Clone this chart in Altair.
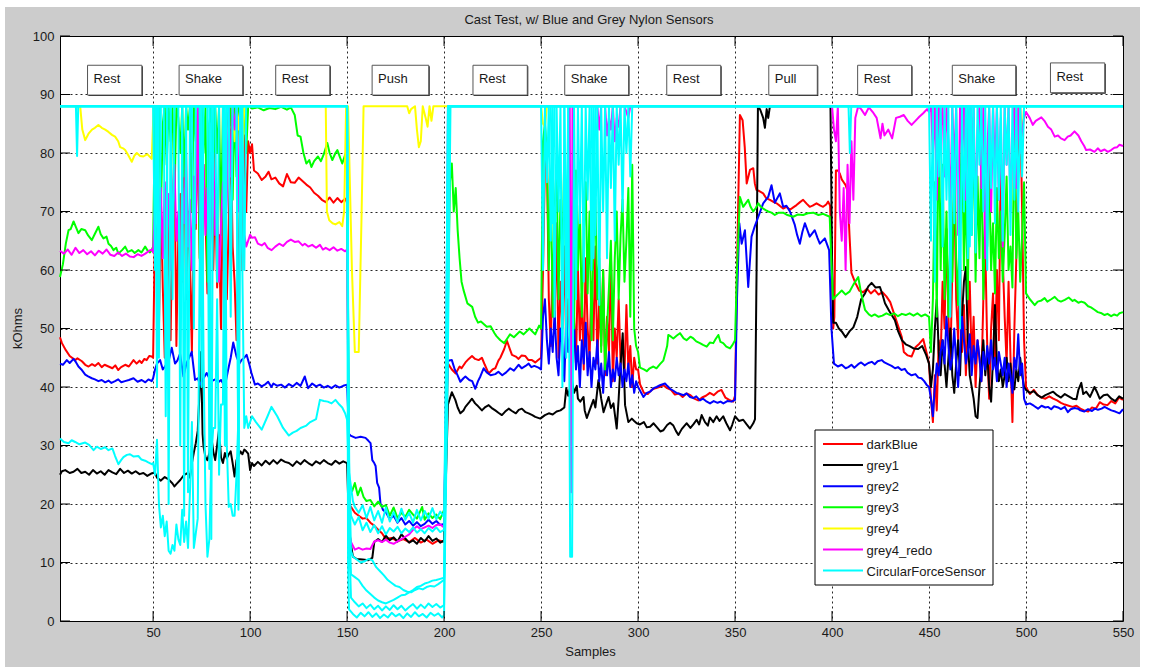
import altair as alt
import pandas as pd

FONT = "Liberation Sans"


def run(start, values):
    """Readings taken at consecutive samples beginning at `start`."""
    return [(start + i, v) for i, v in enumerate(values)]


# ---------------- sensor readings (sample, kOhms) ----------------
dark_blue = (
    [(2, 48.5), (3, 47.5), (5, 46.3), (7, 45.3), (9.8, 44.6), (11, 44.9), (13.3, 44.4), (15, 43.8),
     (16.7, 43.5), (18.5, 43.9), (20, 43.6), (21.8, 44.1), (23.5, 43.4), (25, 43.8), (27, 43.5),
     (29, 43.2), (30.5, 43.7), (32, 42.9), (33.5, 43.4), (35.6, 43.8), (37.5, 43.5), (39.9, 44.6),
     (41.5, 44), (43, 44.5), (44.1, 44.1), (45.5, 44.8), (46.7, 44.6), (48, 45.3), (49.3, 45.2)]
    + run(50, [45, 68, 66, 50, 72, 57, 45, 75, 62, 48, 70, 80, 47, 66, 73, 58, 82, 55, 70, 60,
               46, 74, 67, 85, 63, 52, 78, 69, 56, 72, 80, 60, 75, 57, 66, 50, 73, 62, 55, 68,
               84, 64, 58, 48, 62, 75, 60, 83, 70, 82])
    + [(100, 80), (101, 81.5), (102, 77), (104, 76.5), (106, 75.4), (108, 76), (109.5, 76.8),
       (111, 75.5), (113, 75.8), (115, 74.8), (117, 74.3), (119, 76.4), (121, 75), (123, 74.9),
       (125, 75.8), (127, 75.2), (129, 74.6), (131, 74.1), (133, 73.2), (135, 72.7), (137, 72),
       (139, 71.6), (141, 72.4), (143, 71.5), (145, 72.3), (147, 71.6), (149, 72.2), (150, 71.5)]
    + [(151, 20), (152, 19.5), (154, 18.5), (156, 18), (158, 17.5), (160, 17.6), (162, 16.8),
       (164, 16.3), (166, 15.6), (168, 15), (170, 14), (173, 14.2), (176, 13.6), (179, 14),
       (182, 13.5), (185, 14.2), (188, 13.4), (191, 13.9), (194, 13.2), (197, 13.8), (200, 13.5)]
    + [(201, 30), (202, 44), (204, 43), (206, 42.3), (208, 43.5), (209, 43.2), (211, 44.2),
       (212.7, 44.8), (214.4, 45.3), (216, 44.8), (217.8, 44.6), (219.5, 45), (221, 43.8),
       (223, 42.3), (225, 43), (226.4, 43.2), (228, 44.5), (229, 45), (231, 46.5), (232.4, 47.9),
       (234, 46.4), (235, 45.5), (237, 45.2), (238.4, 44.8), (240, 45.4), (241.8, 45.3),
       (243.5, 44.6), (245.3, 44.6), (247, 44.2), (248.5, 44.6)]
    + run(250, [45, 60, 78, 80, 55, 47, 62, 52, 68, 45, 58, 50, 64, 46, 55, 49, 70, 52, 44, 60,
                48, 56, 43, 62, 50, 45, 58, 48, 64, 44, 55, 47, 60, 42, 52, 46, 63, 41, 50, 45,
                55, 44, 48, 42, 54, 43, 47, 40, 45, 43])
    + [(300, 43), (301, 40.5), (303, 39), (305, 38.8), (307, 39.5), (309, 39.8), (311, 40),
       (313, 40.3), (315, 39.8), (317, 39.5), (319, 38.7), (321, 38.9), (323, 38.3), (325, 38.9),
       (327, 38.6), (329, 38), (331, 37.7), (333, 38.2), (335, 38.5), (337, 39), (339, 38.6),
       (341, 39.2), (343, 39.5), (345, 38.2), (347, 37.8), (349, 37.5), (350, 38.5), (351, 60),
       (352.5, 86.5), (353.9, 85.6), (355, 81), (356, 74.8), (357.7, 77.1), (359.4, 77.4),
       (360.2, 74.8), (361, 73.7), (362.5, 73.5), (364.5, 73.1), (366, 72.3), (368, 72),
       (370, 71.6), (371.4, 71.4), (373, 71), (374.8, 70.5), (376.5, 70.8), (378.3, 70.3),
       (380, 70.7), (381.7, 71.1), (383.5, 71.6), (385.1, 72), (387, 71.3), (388.5, 70.8),
       (390, 71), (392, 71.4), (394, 71), (395.4, 70.8), (397, 71.2), (398, 71.7), (399, 71)]
    + [(400, 60), (400.6, 50), (401.2, 52), (402, 77), (403, 77), (404, 76.5), (405, 75.5),
       (406, 75), (407, 74.5), (408, 73.5), (409, 66), (410, 59.5), (412, 57.8), (414, 56.5),
       (416, 56.2), (418, 56.8), (420, 56), (422, 56.6), (424, 55.8), (426, 56.2), (428, 55.5),
       (430, 54.5), (432, 52.5), (434, 50.5), (436, 48.5), (437, 46), (439, 45.4), (441, 45.2),
       (443, 46.8), (445, 47.4), (447, 48.2), (449, 45.5)]
    + run(450, [44, 38, 34, 42, 36, 48, 45, 58, 50, 67, 52, 44, 60, 75, 55, 48, 62, 46, 54, 42,
                50, 58, 44, 52, 40, 48, 45, 41, 55, 64, 47, 38, 50, 56, 44, 60, 48, 80, 62, 52,
                44, 58, 45, 34, 50, 62, 80, 88, 70, 48, 40])
    + [(502, 38.8), (504, 39.5), (506, 38.6), (508, 38.2), (510, 38), (512, 38.4), (514, 38),
       (516, 37.7), (518, 37.3), (520, 37), (522, 36.8), (524, 36.6), (526, 36.8), (528, 36.3),
       (530, 36), (532, 35.8), (534, 36.5), (536, 36.3), (538, 37.4), (540, 37), (542, 36.9),
       (544, 37.6), (546, 37.2), (548, 38.2), (550, 37.8)]
)

grey1 = (
    [(2, 25), (3, 25.6), (4.7, 25.8), (7, 25.3), (9, 25.5), (11, 26), (13, 25.3), (15, 25.5),
     (17, 25), (19, 25.8), (21, 25.2), (23, 25.6), (25, 25), (27, 25.8), (29, 25.4), (31, 25.1),
     (33, 26), (35, 25.3), (37, 25.7), (39, 25.2), (41, 25.6), (43, 25.1), (45, 25.3), (47, 24.8),
     (49, 25.2), (50, 25.3)]
    + [(51, 25.3), (52, 24.5), (54, 24), (56, 24.6), (58, 24.2), (60, 23.5), (61, 23), (62, 23.4),
       (64, 24.1), (66, 25), (68, 25.3), (69, 24.5), (70, 27), (71, 28.8), (72, 30.4), (73, 32.5),
       (74, 39.5), (74.7, 46), (75.5, 32), (76, 29.8), (77, 28), (78, 27.5), (79, 28.7),
       (80, 31.5), (81, 29), (82, 27.5), (83, 30), (84, 32.7), (85, 28), (86, 27), (87, 28.7),
       (88, 27.8), (89, 28.5), (90, 29), (91, 27), (92, 24.7), (93, 27.5), (94, 28.2), (95, 29),
       (96, 28.5), (97, 29.3), (98, 29), (99, 28.6), (100, 25.8), (101, 27), (102, 26.5)]
    + [(104, 27.2), (106, 26.6), (108, 27.4), (110, 26.8), (112, 27.5), (114, 26.9), (116, 27.6),
       (118, 27.2), (120, 27), (122, 26.5), (124, 27.3), (126, 26.8), (128, 27.5), (130, 27),
       (132, 26.6), (134, 27.3), (136, 26.9), (138, 27.5), (140, 27), (142, 26.7), (144, 27.4),
       (146, 26.9), (148, 27.3), (150, 27)]
    + [(151, 16), (152, 13), (153, 11), (155, 10.6), (158, 10.5), (161, 10.4), (163, 10.8),
       (164, 13.5), (166, 14), (168, 13.5), (170, 14.6), (172, 13.8), (174, 14.3), (176, 13.6),
       (178, 14.8), (180, 14.1), (182, 13.4), (184, 13.8), (186, 13.2), (188, 14.2), (190, 13.6),
       (192, 14.5), (194, 13.7), (196, 14.1), (198, 13.4), (200, 13.8)]
    + [(201, 25), (202, 37), (204, 39.1), (205.8, 37.8), (207, 36.5), (208.4, 35.5), (210, 36),
       (211, 36.6), (213, 37.4), (214.4, 38), (216, 37.2), (217, 36.9), (219.5, 36), (221, 36.5),
       (223, 36.9), (225, 36.3), (226.4, 36), (228, 35.6), (229.8, 35.2), (231.5, 35.8),
       (233.3, 36.3), (235, 35.9), (237, 35.5), (238.5, 36.1), (240.1, 36.3), (242, 35.7),
       (243.6, 35.5), (245.5, 35.2), (247, 34.9), (249.6, 34.6)]
    + [(252, 35.2), (254, 35.5), (256, 35.3), (258, 35.8), (260, 36), (262, 36.5), (263, 39.8),
       (264, 38.5), (265.9, 41.2), (267, 39), (268.4, 40.2), (269, 38), (270.2, 37.5),
       (271.9, 38.3), (272.5, 36), (273.6, 34.7), (275, 36), (277, 37.8), (278, 36.5),
       (279.6, 41.2), (281, 38), (282.2, 35.7), (283.5, 37), (284.8, 38.3), (286, 36.4),
       (287.3, 37.2), (289, 32.9), (290, 38), (290.8, 42.9), (292.1, 49.2), (293.3, 36.9),
       (295, 34), (296.8, 34.6), (298, 34.2), (299.3, 33.8)]
    + [(301, 33.6), (303, 34), (304.5, 33.1), (306.2, 33.2), (308, 33.8), (310, 33), (311.5, 32.4),
       (313, 32.6), (315, 33.5), (316.5, 33.9), (318.2, 33.4), (319.5, 32.5), (320.8, 31.8),
       (322.5, 32.8), (324, 33.4), (325.1, 33.8), (327, 33), (328.5, 33.6), (330.2, 34.4),
       (331.5, 33.6), (332.8, 35.2), (334.5, 34), (336, 33.4), (337, 34.8), (338.8, 34),
       (340.5, 35), (342, 34.2), (343.9, 35), (345.5, 33.8), (347.4, 32.6), (348.5, 33.5),
       (350, 35), (352, 34.2), (354.2, 34.4), (356, 33.6), (357.7, 32.9), (359.4, 33.8),
       (360.3, 34.5), (361.1, 60), (361.8, 88), (363, 87.4), (364.5, 86), (365.4, 84.3),
       (366.3, 87.5), (367.1, 86), (368, 88), (399.2, 88), (400, 62), (400.6, 51), (402, 51),
       (403.5, 50), (405, 49.5), (407, 48.5), (409, 49.5), (411, 50.2), (413, 52), (415, 55),
       (417, 56), (418.7, 57.2), (420.4, 57.8), (422.5, 57), (424.7, 57.1), (426, 55.8),
       (427.3, 54.3), (429.5, 53), (432.4, 51.4), (434.1, 49.5), (436, 48), (438, 47.3),
       (440, 47), (442, 46.6), (444.4, 46.5), (446.5, 47), (448.5, 45.5)]
    + run(450, [44, 40, 43, 50, 55, 46, 42, 48, 44, 40, 45, 50, 42, 39, 44, 48, 42, 52, 58, 60.5,
                48, 42, 40, 38, 35, 34.7, 40, 44, 48, 42, 46, 40, 37.5, 45, 54, 44, 41, 43, 40, 42,
                45, 41, 44, 40, 39.6, 43, 41, 45, 42, 40, 39.5])
    + [(502, 39), (504, 39.3), (506, 38.6), (508, 38.2), (510, 38.6), (512, 38.9), (514, 39.2),
       (516, 38.6), (518, 38.2), (520, 38.8), (522, 38.4), (524, 38), (526, 37.9), (527, 39.5),
       (528.5, 40.7), (529.5, 38.8), (531, 39.2), (533, 38.3), (535.3, 40), (536.5, 39.2),
       (538, 38), (540, 38.6), (542, 38.7), (544, 38), (546, 37.6), (548, 38.4), (550, 38)]
)

grey2 = (
    [(2, 44), (3.5, 43.8), (5.5, 44.6), (7, 44.1), (9, 44.8), (10.3, 44.2), (11.5, 43.5), (13, 43),
     (15, 42.1), (16.5, 41.8), (18.4, 41.5), (20, 41.3), (21.8, 41), (23.5, 41.2), (25.3, 40.8),
     (27, 41.1), (28.5, 40.7), (30.4, 41), (32, 41.3), (33.6, 40.8), (35.5, 41), (37.5, 41.2),
     (39.9, 41.5), (42, 40.9), (44.1, 41.2), (46, 40.8), (47.6, 41.3), (49.3, 41), (50, 41.5)]
    + [(51, 43), (52, 44), (53.6, 44.6), (55, 43), (56.1, 43.5), (58, 44.5), (59.6, 46.7),
       (61.3, 44), (62.5, 44.5), (63.9, 45.7), (65.6, 41.8), (67.3, 44.1), (69.9, 46),
       (71.6, 41.2), (73, 41.5), (74.2, 40.4), (76, 41.5), (77.6, 42.4), (79, 41.5), (80.2, 41),
       (82, 41.3), (83.6, 40.8), (85, 41.2), (87, 40.1), (88.7, 43), (90, 45), (91.3, 47.6),
       (93, 45.2), (94.5, 44), (95.6, 44.6), (97, 45), (98.2, 45.5), (99.5, 44), (100.7, 42.4),
       (102.5, 40.4)]
    + [(104, 40.6), (106, 40.1), (108, 40.5), (109.3, 40.9), (111, 40), (112, 40.6), (114, 40.2),
       (116, 40.4), (118, 39.9), (120, 40.5), (122, 40.1), (124, 40.7), (126, 40.2), (128.2, 41.8),
       (129.9, 39.8), (132, 40.6), (134, 40.1), (136, 40.4), (138, 39.9), (140, 40.2), (142, 39.8),
       (144, 40.3), (146, 39.9), (148, 40.2), (150, 40.4)]
    + [(151, 32), (151.8, 31.7), (154.4, 31.3), (157, 31.5), (159.5, 31.3), (161, 30.8),
       (162.1, 30.4), (163, 27.5), (164, 27), (164.7, 26.5), (165.5, 23.6), (166.5, 22.8),
       (167.2, 20.1), (168.5, 19), (170, 18.6), (172, 17.4), (174, 18), (176, 16.8), (178, 17.6),
       (180, 16.5), (182, 17.1), (184, 16.3), (186, 16.9), (188, 16.2), (190, 16.6), (192, 17.3),
       (194, 16.6), (196, 17.1), (198, 16.4), (200, 16.6)]
    + [(201, 35), (202, 44.5), (204, 44.6), (205.5, 43), (206.7, 42.2), (208.4, 40.9), (210, 41.5),
       (211, 41.8), (213, 41.2), (214.5, 41), (216.1, 39.7), (217.5, 41), (218.7, 41.8),
       (220.4, 43.2), (222, 42.5), (224, 42), (226.4, 42.2), (228, 42.6), (230, 42), (232, 42.5),
       (234.1, 43.2), (236, 42.8), (238.4, 43.8), (240, 43.2), (242, 43.6), (243.6, 44),
       (245, 43.4), (246.5, 43.6), (248.7, 43.3)]
    + run(250, [43, 52, 55, 48, 44, 50, 46, 53, 45, 42, 50, 47, 41, 52, 46, 49, 44, 51, 43, 47,
                40, 48, 44, 51, 42, 46, 40, 45, 43, 48, 41, 44, 39, 45, 42, 46, 40, 43, 41, 45,
                42, 44, 40, 43, 41, 44, 40, 42, 39, 41])
    + [(300, 40), (302.8, 38.3), (304.5, 39), (306.2, 39.2), (308, 39.8), (309.6, 40),
       (311.3, 40.3), (313.9, 40.6), (315, 40.2), (316.5, 39.7), (318, 39.4), (319.8, 39),
       (321.6, 38.8), (323.5, 38.6), (325, 38.9), (326.8, 38.3), (328.5, 38.1), (330, 38.4),
       (331.9, 37.7), (333.5, 38), (335, 37.6), (337.1, 37.2), (339, 37.6), (341, 37.3),
       (342.5, 37.5), (344, 37.2), (346, 37.6), (348.2, 37.5), (350, 37.8), (351, 55),
       (352.2, 68), (353.4, 64.5), (355.1, 66.8), (356.8, 57.1), (358.5, 65.7), (360.2, 67.5),
       (362, 69.1), (364.5, 71.4), (367.1, 72.5), (368.8, 74.5), (370.5, 71.5), (373.1, 73.1),
       (374.8, 70.8), (376.5, 71), (378.3, 70), (380.8, 67.7), (382, 66), (383.4, 64.5),
       (384.7, 66.5), (386, 68), (388.5, 65.7), (391.1, 66.8), (392.5, 65.5), (393.7, 64.5),
       (396.3, 65.4), (398.5, 63.4), (399.7, 50), (401, 44), (403, 43.5), (405, 43.8),
       (407, 43.2), (408.4, 43.4), (410, 43.8), (411.5, 43.3), (413.5, 43.9), (415, 44.2),
       (416.8, 43.7), (418.7, 44.1), (420.5, 44.3), (422, 43.9), (423.5, 44.4), (425.6, 44.6),
       (427, 44.2), (428.8, 43.9), (430.7, 43.6), (432.5, 43.2), (434, 43.4), (435.8, 42.9),
       (437.5, 43.1), (439, 42.4), (441, 42), (443, 42.2), (444.5, 41.6), (446.1, 41.5),
       (447.5, 41), (448.7, 40.4)]
    + run(450, [40, 38, 35, 40, 44, 42, 46, 48, 44, 52, 47, 43, 45, 50, 44, 40, 46, 52, 48, 44,
                46, 49, 42, 47, 44, 48, 45, 41, 46, 43, 47, 44, 48, 43, 45, 41, 46, 44, 42, 45,
                40, 44, 42, 39, 45, 43, 49, 42, 44, 38, 37])
    + [(502, 37.2), (504, 36.8), (506.2, 36.3), (508, 36.8), (510, 36.5), (511.3, 36.6),
       (513, 36.2), (514.5, 36.7), (516.5, 36.5), (518, 36.2), (520, 36.6), (521.6, 35.7),
       (523, 36.2), (525, 36.4), (526.8, 36.3), (528, 36), (530, 35.8), (532, 36.2), (534, 35.9),
       (535.5, 36.3), (537.1, 36.1), (539, 36.3), (540.5, 36.6), (542.2, 36.3), (544, 36),
       (546, 35.8), (548.2, 35.5), (550, 36.2)]
)

grey3 = (
    [(2, 58.8), (3.5, 61), (5, 64.5), (6.4, 66.8), (7.5, 67), (9, 68.3), (10, 67.5), (11.5, 66.3),
     (13, 67), (15, 66.8), (16.5, 65.9), (18.4, 65.1), (20, 66.2), (21.8, 67.4), (23, 66.1),
     (24.4, 65.4), (26, 65.7), (27, 64.5), (28.3, 64.1), (29.6, 63.4), (31, 63.8), (32.1, 62.8),
     (34, 63.4), (35.6, 64), (37, 63.1), (39, 63.4), (40.5, 62.9), (42.4, 63.4), (44, 63),
     (45.9, 64), (47, 63.4), (48.4, 63), (49.5, 63.6)]
    + run(50, [64, 88, 75, 88, 70, 85, 88, 78, 88, 82, 88, 72, 88, 86, 80, 88, 76, 88, 84, 88,
               70, 88, 82, 88, 62, 88, 80, 88, 58, 85, 88, 74, 88, 80, 88, 66, 88, 78, 88, 84,
               88, 72, 88, 76, 88, 85, 88, 88, 80, 88, 88])
    + [(101, 87.6), (104, 87.8), (107, 87.3), (110, 87.7), (113, 87.5), (116, 87.9), (119, 87.4),
       (121, 87.8), (123, 86.5), (124.5, 83), (126, 82.8), (127.5, 80), (129, 78.2), (130.5, 78.8),
       (131.6, 77.6), (133, 78.6), (135, 79.4), (136.5, 78.6), (138, 79.8), (139.8, 81.7),
       (141, 80), (142.4, 78.8), (144, 80), (145, 80.5), (146.3, 79.3), (147.5, 78.2),
       (149.2, 79.9), (150, 80.5)]
    + [(151, 23.5), (152.6, 22.2), (154, 23.6), (155.5, 21.5), (157, 22.8), (158.5, 21.2),
       (160, 20.5), (162, 20.7), (164, 19.6), (166, 20.4), (168, 19.5), (170, 19.8), (172, 18),
       (174, 19.4), (176, 17.6), (178, 18.5), (180, 17.8), (182, 19), (184, 18.2), (186, 17.5),
       (188.7, 19.5), (190, 17.3), (192, 18.4), (194, 17.6), (196, 18.2), (198, 17.4), (200, 19)]
    + [(201, 30), (202, 55), (203, 75), (204, 78.2), (205, 70), (206, 74), (207, 66.8), (208, 62),
       (209, 58), (210, 56.6), (212, 54.3), (214.5, 53.7), (216, 52), (217.5, 51), (219, 51.2),
       (222, 50.3), (224, 50.4), (226, 49.2), (227, 48.7), (229, 48), (231, 47.5), (233, 48.5),
       (234, 49), (236, 48.5), (239, 49.5), (241, 49), (244, 50), (247, 49), (249, 50.5)]
    + run(250, [50, 82, 85, 80, 60, 76, 52, 70, 78, 55, 72, 62, 80, 54, 74, 58, 68, 50, 77, 60,
                71, 52, 66, 75, 56, 70, 48, 64, 72, 55, 62, 46, 60, 43, 50, 57, 65, 48, 62, 70,
                55, 66, 72, 58, 65, 74, 52, 78, 50, 47])
    + [(300, 46), (301, 43.3), (303, 43), (304.5, 42.7), (306, 43.2), (307.9, 43.5),
       (309.5, 43.2), (311.3, 43.9), (313, 44.5), (313.9, 45.6), (315, 47), (315.6, 48.9),
       (317, 48.6), (318.2, 48.3), (320, 48.8), (321.6, 49.2), (323.5, 48.3), (325, 48),
       (327, 48.6), (328.5, 48.3), (330, 47.8), (331.9, 47.5), (333.5, 47.2), (335.4, 46.9),
       (337, 47.6), (338.8, 47.5), (340, 48.2), (341.4, 48.9), (342.5, 47.7), (343.9, 47.5),
       (345.5, 46.9), (347.4, 46.6), (348.7, 47.2), (350, 48), (351, 60), (352.5, 72.5),
       (354.2, 70.8), (355.5, 71.4), (356.8, 72), (358, 70.8), (359.4, 70), (360.7, 70.6),
       (362, 71.4), (363.3, 70.8), (364.5, 70.5), (366, 70.2), (367.1, 70), (368.8, 69.8),
       (370.5, 69.4), (372.5, 69.8), (374.8, 69.8), (377, 69.4), (380, 69.1), (382.5, 69.5),
       (385.1, 69.4), (387.5, 69.7), (390.3, 69.8), (393, 69.4), (395.4, 69.6), (398.8, 69.1),
       (399.6, 62), (400.5, 55), (402, 55.5), (403.5, 56), (405, 56.5), (407, 55.8), (409, 56.3),
       (411, 57.5), (413.5, 58.8), (415, 56), (417, 53.2), (419, 52.4), (420.4, 52.1), (422, 52.4),
       (424, 52), (426, 52.2), (428, 52.6), (430, 52.3), (432, 52.6), (434, 52.1), (436, 52.5),
       (438, 52.3), (440, 52.6), (442, 52.2), (444, 52.6), (446, 52.1), (448, 52.4)]
    + run(450, [52, 46, 55, 75, 52, 88, 60, 78, 55, 70, 52, 65, 58, 80, 62, 54, 72, 84, 60, 75,
                55, 82, 66, 86, 58, 76, 62, 80, 55, 72, 64, 78, 60, 68, 56, 74, 62, 70, 58, 66,
                76, 60, 64, 57, 88, 62, 70, 58, 66, 75, 56])
    + [(501, 55.5), (502, 55), (504.5, 54), (506, 54.6), (508, 54.8), (509.6, 55.2), (511, 54.6),
       (513, 55), (514.8, 55.4), (516.5, 54.8), (518, 54.6), (520, 54.9), (522, 55.3), (524, 54.7),
       (525, 54.9), (527, 54.4), (528.5, 54.6), (530.2, 54.4), (532, 53.8), (533.5, 53.6),
       (535.3, 53.2), (537, 52.8), (539, 52.6), (540.5, 52.3), (542, 52.5), (543.9, 52.1),
       (545.5, 52.4), (547, 52.2), (548.2, 52.6), (550, 52.8)]
)

grey4 = [
    (2, 88), (12.4, 88), (13.5, 84), (15, 82.2), (16.7, 83.3), (18.5, 84), (20, 84.3),
    (21.8, 84.8), (23.5, 84.3), (25.3, 84), (27, 83.6), (28.8, 83.1), (30.4, 82.8), (32, 82),
    (33, 81), (34.5, 80.8), (35.6, 80.5), (37.2, 79.6), (39, 78.5), (40.3, 79.5), (41.6, 80),
    (43.3, 79.5), (45, 79.4), (47, 79.8), (49.3, 79), (50.3, 88), (91, 88), (92, 82), (93, 88),
    (94, 84), (95, 88), (96, 79), (97, 88), (139, 88), (139.6, 70), (140.8, 68.5), (142.5, 68),
    (144, 67.8), (146, 68.2), (147.5, 67.5), (148.5, 70), (149.5, 88), (150.5, 88), (152.5, 60),
    (154, 46), (156, 46), (157.5, 70), (158.5, 88), (181, 88), (182, 86.8), (183, 87.5),
    (185, 88), (186, 84), (187, 81), (188, 82), (189, 88), (190.5, 86), (191.5, 84.5),
    (192.5, 88), (193.5, 85.5), (194.5, 88), (250, 88), (251, 85), (252, 84.5), (253, 88),
    (452, 88), (453, 84), (454, 88), (494, 88), (495, 85), (496, 88), (498, 83), (499, 88),
    (550, 88),
]

grey4_redo = (
    [(2, 63.3), (4, 62.8), (6, 63.5), (8, 62.6), (10, 63.8), (12, 62.9), (14, 63.4), (16, 62.7),
     (18, 63.2), (20, 62.5), (22, 63.3), (24, 62.8), (26, 63.5), (28, 62.6), (30, 62.4), (32, 63),
     (34, 62.4), (36, 62.8), (38, 62.3), (40, 62.2), (42, 62.7), (44, 62.4), (46, 62.8),
     (48, 63.3), (49.5, 63.5)]
    + run(50, [63, 72, 76, 70, 74, 62, 75, 66, 73, 60, 71, 78, 65, 70, 58, 74, 68, 80, 64, 72,
               60, 76, 68, 88, 70, 63, 78, 66, 74, 62, 69, 80, 66, 72, 58, 68, 75, 65, 72, 88,
               76, 88, 84, 88, 70, 88, 76, 66, 64, 65, 66])
    + [(101, 65.5), (102.5, 65.6), (104, 64.5), (106, 64.2), (107.5, 64.6), (109, 63.8),
       (111.1, 63.4), (113, 64), (115, 64.5), (117, 64.1), (119, 64.8), (121, 65.2), (123, 64.8),
       (125, 64.9), (127, 64.2), (128.2, 64.5), (130, 64), (132, 64.3), (134, 63.8), (136, 64.3),
       (137.5, 63.5), (139, 63.8), (141, 63.4), (143, 63.9), (145, 63.3), (147, 63.6), (149, 63.2),
       (150, 63.5)]
    + [(150.6, 40), (151, 15), (152, 13.5), (154, 12.2), (156, 12.5), (158, 12.2), (160, 12.4),
       (162, 12.3), (164, 13.6), (166, 13.8), (168, 13.5), (170, 13.9), (172, 13.4), (174, 13.2),
       (176, 13.6), (178, 14), (180, 14.4), (182, 14.8), (184, 15.6), (186, 16.2), (188, 15.7),
       (190, 16), (192, 16.3), (194, 15.9), (196, 16.4), (198, 16.5), (200, 16)]
    + [(201, 40), (202, 88), (264.8, 88), (265.5, 22), (266.2, 88), (279, 88), (280, 84),
       (281, 88), (283, 88), (284, 83), (285, 86), (286, 84), (287, 88), (288, 82), (289, 86),
       (290, 84.5), (291, 88), (293, 88), (295, 86), (296, 88), (400, 88), (401, 84), (402, 82),
       (403, 88), (404, 70), (405, 65), (406, 74), (407, 60), (408, 78), (409, 68), (410, 82),
       (411, 72), (412, 86), (413.5, 88), (415, 87.5), (417, 86.5), (419, 87.8), (421, 87),
       (423, 86), (425, 82.5), (426, 85), (427, 83), (429, 84), (431, 82.5), (433, 86),
       (435, 86.2), (437, 86.5), (439, 85.5), (441, 84.8), (443, 85.5), (445, 86.2), (447, 86.8),
       (449, 87.5)]
    + run(450, [87, 88, 80, 88, 72, 88, 84, 88, 76, 88, 82, 70, 88, 78, 88, 66, 88, 80, 88, 72,
                85, 88, 76, 88, 68, 84, 88, 74, 88, 62, 80, 88, 70, 88, 77, 88, 72, 86, 64, 88,
                78, 88, 70, 82, 88, 74, 88, 80, 84, 86, 87])
    + [(501.9, 86), (503.5, 84.8), (505, 85.5), (507.9, 86.1), (509.5, 85.5), (511.3, 84.5),
       (513, 84), (514.8, 82.8), (516.5, 83), (518, 82.5), (519.9, 82.2), (521.5, 82.8), (523, 83),
       (525, 83.7), (527, 83), (528.5, 82), (530, 81.2), (531, 80.5), (533, 80.6), (535.3, 80.2),
       (537, 80.8), (538.5, 80.3), (540.5, 80.6), (542.2, 80.2), (543.9, 80.5), (545.5, 80.9),
       (547, 81), (548.2, 81.4), (550, 81.2)]
)

# the circular force sensor records several channels, all drawn in the same colour
circular_1 = (
    [(2, 88), (10.2, 88), (10.8, 79.5), (11.4, 88), (50, 88), (51, 60), (52, 88), (53, 45),
     (54, 88), (55.5, 88), (56.5, 35), (57.5, 88), (59, 88), (60, 55), (61, 88), (63, 88),
     (64, 30), (65, 88), (67, 88), (68, 22), (69, 88), (70, 88), (71, 50), (72, 88), (74, 88),
     (75, 40), (76, 88), (78, 88), (79, 26), (80, 88), (82, 88), (83, 58), (84, 88), (86, 88),
     (87, 30), (88, 88), (89, 88), (90, 52), (91, 88), (93, 88), (94, 20), (95, 88), (96, 88),
     (97, 60), (98, 88), (99, 88)]
    + [(150, 88), (150.5, 10), (151, 2), (153, 1.2), (155, 0.6), (157, 1.4), (159, 0.8),
       (161, 1.5), (163, 0.7), (165, 1.3), (167, 0.5), (169, 1.1), (171, 0.6), (173, 1.4),
       (175, 0.8), (177, 1.2), (179, 0.5), (181, 1.3), (183, 0.7), (185, 1.5), (187, 0.8),
       (189, 1.2), (191, 0.6), (193, 1.4), (195, 0.9), (197, 1.3), (199, 0.6), (200, 1),
       (201, 40), (202, 88), (250, 88)]
    + run(251, [60, 88, 75, 88, 65, 88, 52, 88, 70, 88, 40, 88, 62, 88, 11, 11, 88, 55, 88, 68,
                88, 58, 88, 72, 88, 60, 88, 66, 88, 54, 88, 70, 88, 62, 88, 74, 88, 65, 88, 78,
                88, 70, 88, 80, 88, 76, 88, 88])
    + [(300, 88), (408.5, 88), (409.2, 80), (409.9, 88), (450, 88)]
    + run(451, [65, 88, 58, 88, 76, 88, 64, 88, 72, 88, 52, 88, 68, 88, 75, 50, 88, 70, 88, 62,
                88, 66, 88, 63, 88, 78, 88, 70, 88, 60, 88, 74, 88, 68, 88, 72, 88, 65, 88, 78,
                88, 66, 88, 72, 88, 70, 88, 76, 88, 88])
    + [(550, 88)]
)

circular_2 = (
    [(2, 31.2), (4, 30.6), (6.4, 30.4), (8, 30.9), (9.8, 30.6), (12, 30.2), (15, 30.5), (17, 30.1),
     (19.3, 29.2), (21, 29.8), (23, 29.4), (25.3, 29.7), (27, 29.2), (29, 29.5), (30.4, 28.2),
     (32.1, 26.8), (33.5, 27.5), (34.7, 28), (36.5, 28.4), (38.1, 28.5), (40, 28.1), (42.4, 28.2),
     (44, 27.6), (45.9, 27.4), (47.5, 27.1), (49.3, 26.8)]
    + run(50, [27, 25, 31, 20, 16, 18, 14.5, 17, 12, 11.5, 13, 12, 16.5, 14, 13, 19, 13.5, 17,
               12.5, 22, 34, 12.5, 15, 17.5, 60, 88, 45, 20, 11, 14, 28, 33, 33, 55, 25, 37, 37,
               88, 30, 19.5, 20, 18, 18, 25, 35, 88, 60, 33, 35, 33])
    + [(101, 35), (103, 34), (106, 32.7), (109, 35), (111, 36.6), (114, 35), (117, 33),
       (120, 31.7), (122, 32.2), (124, 32.5), (126, 33), (129, 33.4), (131, 34), (134, 34.5),
       (136, 37.8), (138, 37.6), (140, 37.5), (142, 37.2), (144, 37.8), (146, 37), (147.5, 36.5),
       (149, 35.5), (150, 34.4), (150.8, 25.8), (152, 23), (153, 20.5), (154, 19.5), (156, 18.5),
       (158, 19.8), (160, 17.6), (162, 19.5), (164, 17.2), (166, 18.8), (168, 16.8), (170, 19.4),
       (172, 17), (174, 18.6), (176, 16.9), (178, 19.2), (180, 17.3), (182, 18.5), (184, 16.8),
       (186, 19), (188, 17.2), (190, 18.8), (192, 17.5), (194, 19.3), (196, 17.4), (198, 18.7),
       (200, 17.8), (201, 45), (202, 88), (550, 88)]
)

circular_3 = [
    (2, 88), (51, 88), (52, 40), (53, 88), (57, 88), (58, 20), (59, 88), (65, 88), (66, 18),
    (67, 88), (79, 88), (80, 14), (81, 88), (93, 88), (94, 19), (95, 88),
    (150, 88), (150.6, 50), (151.2, 22), (152, 18), (154, 16.5), (156, 17.8), (158, 15.5),
    (160, 16.8), (162, 15.2), (164, 16.4), (166, 15), (168, 16.2), (170, 14.8), (172, 15.9),
    (174, 15.3), (176, 16.1), (178, 15), (180, 15.8), (182, 15.2), (184, 16), (186, 15.1),
    (188, 15.7), (190, 15), (192, 15.9), (194, 15.3), (196, 16), (198, 15.2), (200, 15.6),
    (201.2, 40), (202.5, 88), (255, 88), (256, 68), (257, 88), (262, 88), (263, 45), (264, 88),
    (276, 88), (277, 62), (278, 88), (470, 88), (471, 64), (472, 88), (550, 88),
]

circular_4 = [
    (2, 88), (150, 88), (150.8, 30), (152, 12), (153, 11), (155, 10.5), (157, 10), (159, 10.2),
    (161, 10.6), (163, 10.4), (165, 9.2), (167, 8.5), (169, 7.8), (171, 7), (173, 6.5), (175, 6),
    (177, 5.8), (179, 5.3), (181, 5), (183, 4.9), (185, 5.3), (187, 5.6), (189, 5.4), (191, 5.8),
    (193, 6), (195, 5.9), (197, 6.3), (199, 6.8), (200, 7), (201.4, 40), (203, 88), (550, 88),
]

circular_5 = [
    (2, 88), (150, 88), (150.9, 20), (152, 8), (154, 7.5), (156, 7), (158, 6), (160, 5.2),
    (162, 4.6), (164, 4), (166, 3.5), (168, 3.2), (170, 3), (172, 3.3), (174, 3.6), (176, 4),
    (178, 4.4), (180, 4.5), (182, 4.9), (184, 5.3), (186, 5.8), (188, 6), (190, 6.4), (192, 6.6),
    (194, 6.9), (196, 7), (198, 7.2), (200, 7.4), (201.6, 40), (203, 88), (550, 88),
]

circular_6 = [
    (2, 88), (150, 88), (151, 15), (152, 4), (154, 3.2), (156, 2.5), (158, 3), (160, 2.2),
    (162, 2.8), (164, 2), (166, 2.6), (168, 1.8), (170, 2.5), (172, 1.9), (174, 2.7), (176, 2),
    (178, 2.6), (180, 1.8), (182, 2.4), (184, 2.9), (186, 2.1), (188, 2.8), (190, 2.2), (192, 3),
    (194, 2.4), (196, 2.9), (198, 2.3), (200, 2.7), (201.8, 40), (203.3, 88), (550, 88),
]

series_names = ["darkBlue", "grey1", "grey2", "grey3", "grey4", "grey4_redo", "CircularForceSensor"]
series_colors = ["#ff0000", "#000000", "#0000ff", "#00ff00", "#ffff00", "#ff00ff", "#00ffff"]
series_traces = [
    [dark_blue], [grey1], [grey2], [grey3], [grey4], [grey4_redo],
    [circular_1, circular_2, circular_3, circular_4, circular_5, circular_6],
]

# test phases marked along the top of the plot
phase_labels = ["Rest", "Shake", "Rest", "Push", "Rest", "Shake", "Rest", "Pull", "Rest", "Shake", "Rest"]
phase_box_start = [16.2, 63.4, 113.2, 162.9, 214.9, 262.2, 314.8, 367.4, 413.2, 462.0, 512.6]
phase_box_end = [44.2, 96.2, 141.1, 192.1, 242.9, 295.1, 342.6, 392.4, 441.0, 494.7, 540.6]
phase_box_top = [95.0, 95.0, 95.0, 95.0, 95.0, 95.0, 95.0, 95.0, 95.0, 95.0, 95.4]
phase_box_bottom = [89.9, 89.9, 89.9, 89.9, 89.9, 89.9, 89.9, 89.9, 89.9, 89.9, 90.3]

x_ticks = [50, 100, 150, 200, 250, 300, 350, 400, 450, 500, 550]
y_ticks = [0, 10, 20, 30, 40, 50, 60, 70, 80, 90, 100]

chart_title = "Cast Test, w/ Blue and Grey Nylon Sensors"

# ---------------- layout ----------------
W, H = 1063, 585
TICK_LEN = 10
x_scale = alt.Scale(domain=[2, 550], nice=False, zero=False)
y_scale = alt.Scale(domain=[0, 100], nice=False, zero=False)

# one shared axis definition per direction, so every layer merges into the same axis
x_axis = alt.Axis(values=x_ticks, grid=True, title="Samples", labelFlush=False, labelOverlap=False,
                  labelPadding=5, titleX=530, titleY=30, titleAlign="center", titleBaseline="middle")
y_axis = alt.Axis(values=y_ticks, grid=True, title="kOhms", labelPadding=6, labelOverlap=False,
                  titleX=-43, titleY=292, titleAngle=270, titleAlign="center", titleBaseline="middle")


def X(field):
    return alt.X(field, scale=x_scale, axis=x_axis)


def Y(field):
    return alt.Y(field, scale=y_scale, axis=y_axis)


one_row = pd.DataFrame({"k": [0]})
layers = []

# data lines, drawn in legend order
for name, color, traces in zip(series_names, series_colors, series_traces):
    rows = []
    for k, tr in enumerate(traces):
        rows += [{"sample": s, "kohm": v, "trace": k} for s, v in tr]
    layers.append(
        alt.Chart(pd.DataFrame(rows)).mark_line(color=color, strokeWidth=2, strokeJoin="round")
        .encode(x=X("sample:Q"), y=Y("kohm:Q"), detail="trace:N", order="sample:Q")
    )

# inward tick marks on all four sides
xt = pd.DataFrame({"tick": x_ticks})
yt = pd.DataFrame({"tick": y_ticks})
for y0, y1 in [(H, H - TICK_LEN), (0, TICK_LEN)]:
    layers.append(alt.Chart(xt).mark_rule(color="black", strokeWidth=1).encode(
        x=X("tick:Q"), y=alt.value(y0), y2=alt.value(y1)))
for x0, x1 in [(0, TICK_LEN), (W, W - TICK_LEN)]:
    layers.append(alt.Chart(yt).mark_rule(color="black", strokeWidth=1).encode(
        y=Y("tick:Q"), x=alt.value(x0), x2=alt.value(x1)))

# phase annotation boxes
phases = pd.DataFrame({
    "label": phase_labels, "start": phase_box_start, "end": phase_box_end,
    "top": phase_box_top, "bottom": phase_box_bottom,
})
phases["mid"] = (phases["top"] + phases["bottom"]) / 2
box_enc = dict(x=X("start:Q"), x2="end:Q", y=Y("top:Q"), y2="bottom:Q")
layers.append(alt.Chart(phases).mark_rect(fill="#202020", xOffset=1, x2Offset=1, yOffset=1, y2Offset=1)
              .encode(**box_enc))
layers.append(alt.Chart(phases).mark_rect(fill="white", stroke="#555555", strokeWidth=1).encode(**box_enc))
layers.append(alt.Chart(phases).mark_text(align="left", baseline="middle", dx=6, dy=-1, font=FONT,
                                          fontSize=13, color="#1a1a1a").encode(
    x=X("start:Q"), y=Y("mid:Q"), text="label:N"))

# legend box
LEG_X0, LEG_X1, LEG_Y0, LEG_Y1 = 755, 933, 394, 549
layers.append(alt.Chart(one_row).mark_rect(fill="white", stroke="black", strokeWidth=1).encode(
    x=alt.value(LEG_X0), x2=alt.value(LEG_X1), y=alt.value(LEG_Y0), y2=alt.value(LEG_Y1)))
for i, (name, color) in enumerate(zip(series_names, series_colors)):
    row_y = 408 + 21.1 * i
    layers.append(alt.Chart(one_row).mark_rule(color=color, strokeWidth=2).encode(
        x=alt.value(763), x2=alt.value(803), y=alt.value(row_y)))
    layers.append(alt.Chart(pd.DataFrame({"name": [name]})).mark_text(
        align="left", baseline="middle", font=FONT, fontSize=13, color="#1a1a1a", dy=1).encode(
        x=alt.value(806.5), y=alt.value(row_y), text="name:N"))

# chart title
layers.append(alt.Chart(pd.DataFrame({"t": [chart_title]})).mark_text(
    align="center", baseline="middle", font=FONT, fontSize=13, color="#1a1a1a").encode(
    x=alt.value(529), y=alt.value(-16), text="t:N"))

# white page margin around the grey figure
for x0, x1, y0, y1 in [(-60, -55, -36, 634), (-60, 1094, -36, -29), (1080, 1094, -36, 634), (-60, 1094, 631, 634)]:
    layers.append(alt.Chart(one_row).mark_rect(color="white").encode(
        x=alt.value(x0), x2=alt.value(x1), y=alt.value(y0), y2=alt.value(y1)))

chart = (
    alt.layer(*layers)
    .properties(
        width=W, height=H,
        autosize=alt.AutoSizeParams(type="none"),
        padding={"left": 60, "top": 36, "right": 31, "bottom": 49},
        background="#cccccc",
    )
    .configure_view(fill="white", stroke="black", strokeWidth=1)
    .configure_axis(
        labelFont=FONT, labelFontSize=13, labelColor="#1a1a1a",
        titleFont=FONT, titleFontSize=13, titleFontWeight="normal", titleColor="#1a1a1a",
        domain=False, ticks=False, tickSize=0,
        gridColor="#000000", gridDash=[2, 3], gridWidth=1, gridOpacity=0.85,
    )
)

chart.save("out.html", embed_options={"renderer": "svg", "actions": False})
